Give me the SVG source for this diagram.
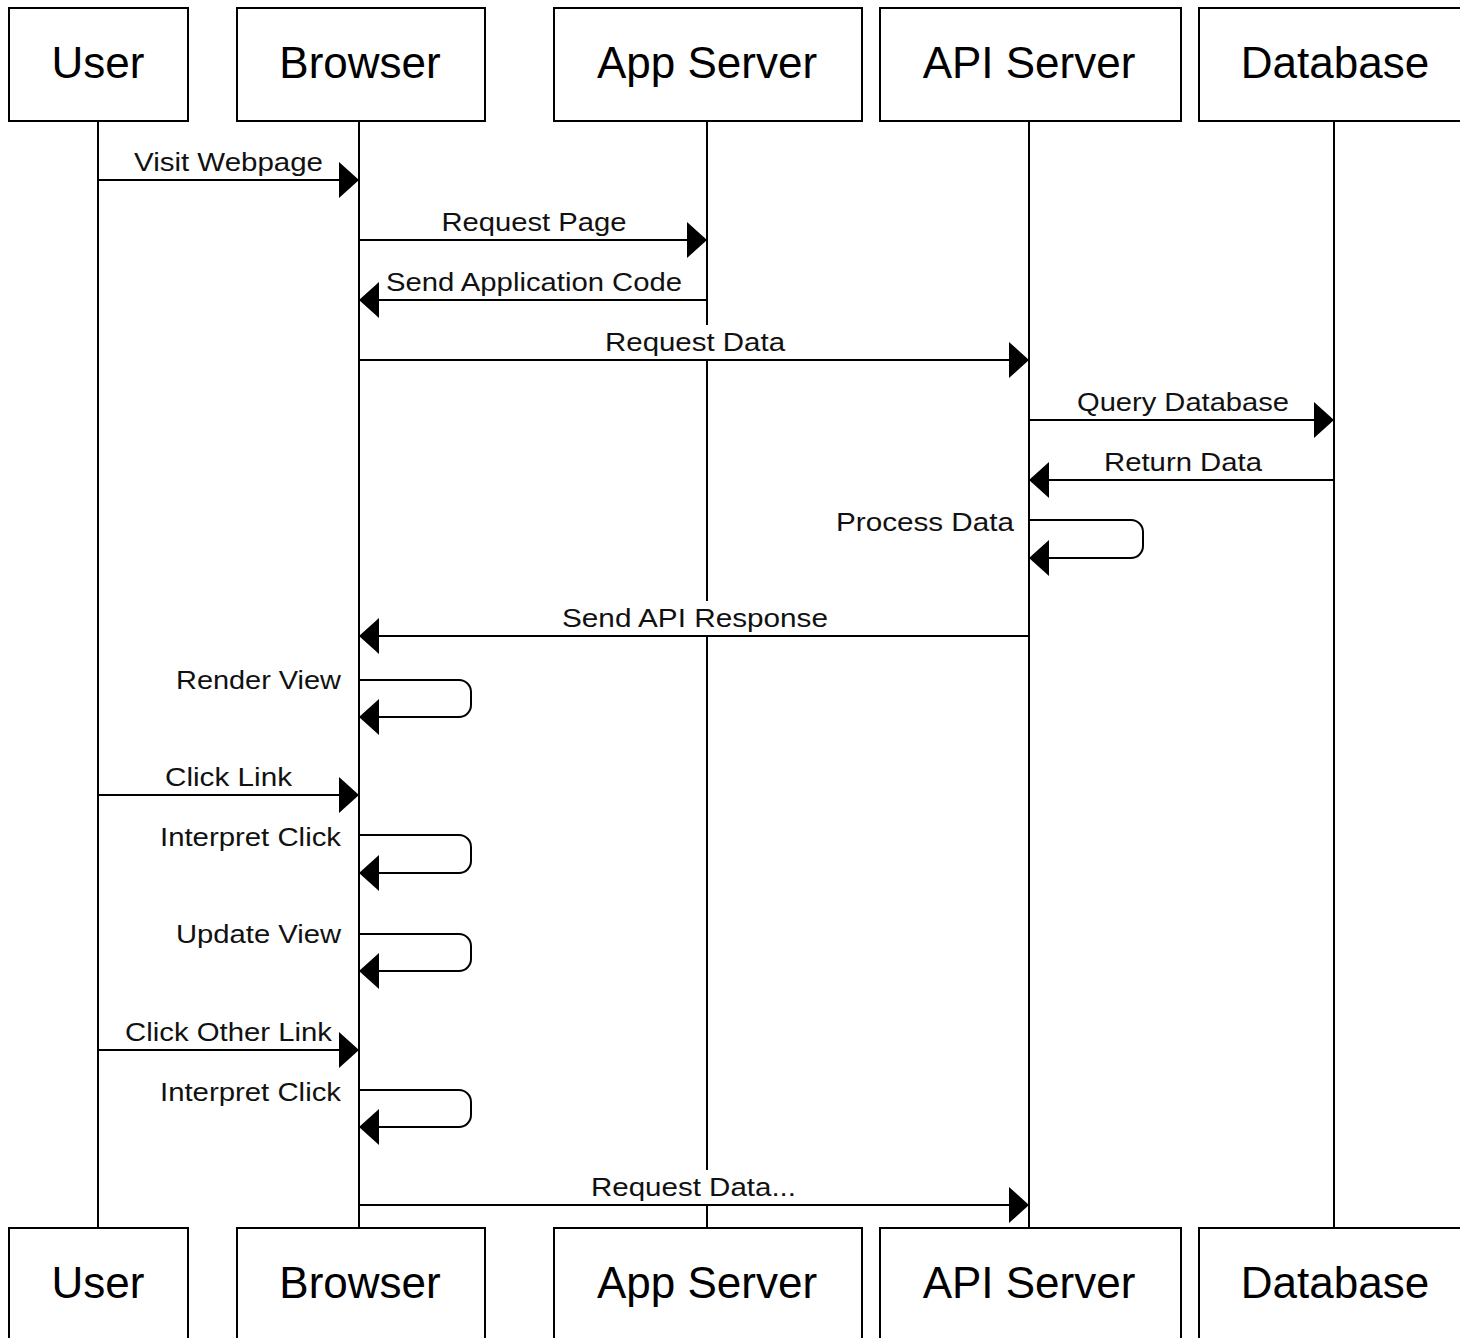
<svg xmlns="http://www.w3.org/2000/svg" width="1460" height="1338" viewBox="0 0 1460 1338">
  <style>
    .box { fill: #fff; stroke: #000; stroke-width: 2; }
    .hdr { font-family: "Liberation Sans", Arial, sans-serif; font-size: 44px; fill: #000; text-anchor: middle; }
    .life { stroke: #000; stroke-width: 2; fill: none; }
    .msg { stroke: #000; stroke-width: 2; fill: none; marker-end: url(#arrow); }
    .bg { fill: #fff; stroke: none; }
    .lbl { font-family: "Liberation Sans", Arial, sans-serif; font-size: 26px; fill: #111; text-anchor: middle; }
    .lbl-r { font-family: "Liberation Sans", Arial, sans-serif; font-size: 26px; fill: #111; text-anchor: end; }
  </style>
  <defs>
    <marker id="arrow" markerUnits="userSpaceOnUse" markerWidth="21" markerHeight="38" refX="20" refY="19" orient="auto" overflow="visible">
      <path d="M0,1 L20,19 L0,37 Z" fill="#000"/>
    </marker>
  </defs>
  <rect width="1460" height="1338" fill="#fff"/>

  <!-- lifelines -->
  <g id="lifelines">
    <line class="life" x1="98" y1="121" x2="98" y2="1228"/>
    <line class="life" x1="359" y1="121" x2="359" y2="1228"/>
    <line class="life" x1="707" y1="121" x2="707" y2="1228"/>
    <line class="life" x1="1029" y1="121" x2="1029" y2="1228"/>
    <line class="life" x1="1334" y1="121" x2="1334" y2="1228"/>
  </g>

  <!-- participants (top) -->
  <g id="user-top"><rect class="box" x="9" y="8" width="179" height="113"/><text class="hdr" x="98" y="78">User</text></g>
  <g id="browser-top"><rect class="box" x="237" y="8" width="248" height="113"/><text class="hdr" x="360" y="78">Browser</text></g>
  <g id="appserver-top"><rect class="box" x="554" y="8" width="308" height="113"/><text class="hdr" x="707" y="78">App Server</text></g>
  <g id="apiserver-top"><rect class="box" x="880" y="8" width="301" height="113"/><text class="hdr" x="1029" y="78">API Server</text></g>
  <g id="database-top"><rect class="box" x="1199" y="8" width="272" height="113"/><text class="hdr" x="1335" y="78">Database</text></g>

  <!-- participants (bottom) -->
  <g id="user-bottom"><rect class="box" x="9" y="1228" width="179" height="113"/><text class="hdr" x="98" y="1298">User</text></g>
  <g id="browser-bottom"><rect class="box" x="237" y="1228" width="248" height="113"/><text class="hdr" x="360" y="1298">Browser</text></g>
  <g id="appserver-bottom"><rect class="box" x="554" y="1228" width="308" height="113"/><text class="hdr" x="707" y="1298">App Server</text></g>
  <g id="apiserver-bottom"><rect class="box" x="880" y="1228" width="301" height="113"/><text class="hdr" x="1029" y="1298">API Server</text></g>
  <g id="database-bottom"><rect class="box" x="1199" y="1228" width="272" height="113"/><text class="hdr" x="1335" y="1298">Database</text></g>

  <!-- messages -->
  <g id="connectors">
    <!-- label backgrounds hide the lifelines behind the text -->
    <rect class="bg" x="603" y="325" width="184" height="34"/>
    <rect class="bg" x="560" y="601" width="270" height="34"/>
    <rect class="bg" x="589" y="1170" width="209" height="34"/>

    <line class="msg" x1="98" y1="180" x2="359" y2="180"/>
    <line class="msg" x1="359" y1="240" x2="707" y2="240"/>
    <line class="msg" x1="707" y1="300" x2="359" y2="300"/>
    <line class="msg" x1="359" y1="360" x2="1029" y2="360"/>
    <line class="msg" x1="1029" y1="420" x2="1334" y2="420"/>
    <line class="msg" x1="1334" y1="480" x2="1029" y2="480"/>
    <path class="msg" d="M1029,520 H1131 A12,12 0 0 1 1143,532 V546 A12,12 0 0 1 1131,558 H1029"/>
    <line class="msg" x1="1029" y1="636" x2="359" y2="636"/>
    <path class="msg" d="M359,680 H459 A12,12 0 0 1 471,692 V705 A12,12 0 0 1 459,717 H359"/>
    <line class="msg" x1="98" y1="795" x2="359" y2="795"/>
    <path class="msg" d="M359,835 H459 A12,12 0 0 1 471,847 V861 A12,12 0 0 1 459,873 H359"/>
    <path class="msg" d="M359,934 H459 A12,12 0 0 1 471,946 V959 A12,12 0 0 1 459,971 H359"/>
    <line class="msg" x1="98" y1="1050" x2="359" y2="1050"/>
    <path class="msg" d="M359,1090 H459 A12,12 0 0 1 471,1102 V1115 A12,12 0 0 1 459,1127 H359"/>
    <line class="msg" x1="359" y1="1205" x2="1029" y2="1205"/>

    <!-- message labels -->
    <text class="lbl" x="228.5" y="171" textLength="189" lengthAdjust="spacingAndGlyphs">Visit Webpage</text>
    <text class="lbl" x="534" y="231" textLength="185" lengthAdjust="spacingAndGlyphs">Request Page</text>
    <text class="lbl" x="534" y="291" textLength="296" lengthAdjust="spacingAndGlyphs">Send Application Code</text>
    <text class="lbl" x="695" y="351" textLength="180" lengthAdjust="spacingAndGlyphs">Request Data</text>
    <text class="lbl" x="1183" y="411" textLength="212" lengthAdjust="spacingAndGlyphs">Query Database</text>
    <text class="lbl" x="1183" y="471" textLength="158" lengthAdjust="spacingAndGlyphs">Return Data</text>
    <text class="lbl-r" x="1014" y="531" textLength="178" lengthAdjust="spacingAndGlyphs">Process Data</text>
    <text class="lbl" x="695" y="627" textLength="266" lengthAdjust="spacingAndGlyphs">Send API Response</text>
    <text class="lbl-r" x="341" y="689" textLength="165" lengthAdjust="spacingAndGlyphs">Render View</text>
    <text class="lbl" x="228.5" y="786" textLength="127" lengthAdjust="spacingAndGlyphs">Click Link</text>
    <text class="lbl-r" x="341" y="846" textLength="181" lengthAdjust="spacingAndGlyphs">Interpret Click</text>
    <text class="lbl-r" x="341" y="943" textLength="165" lengthAdjust="spacingAndGlyphs">Update View</text>
    <text class="lbl" x="228.5" y="1041" textLength="207" lengthAdjust="spacingAndGlyphs">Click Other Link</text>
    <text class="lbl-r" x="341" y="1101" textLength="181" lengthAdjust="spacingAndGlyphs">Interpret Click</text>
    <text class="lbl" x="693.5" y="1196" textLength="205" lengthAdjust="spacingAndGlyphs">Request Data...</text>
  </g>
</svg>
